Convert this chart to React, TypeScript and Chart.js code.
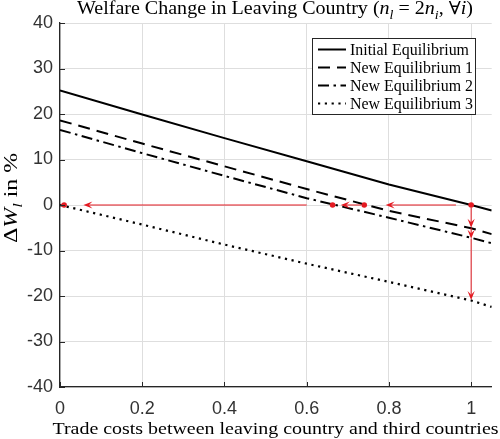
import React, { useEffect, useRef } from "react";
import { Chart, registerables } from "chart.js";

Chart.register(...registerables);

// ---- data ----
const xValues = [0, 0.2, 0.4, 0.6, 0.8, 1.0, 1.05];
const initialEq = [25.2, 19.9, 14.7, 9.6, 4.5, 0, -1.2];
const newEq1 = [18.6, 13.5, 8.5, 3.5, -1.3, -5.1, -6.4];
const newEq2 = [16.5, 11.4, 6.4, 1.5, -2.8, -7.2, -8.4];
const newEq3 = [0, -4.3, -8.7, -12.9, -16.9, -21.0, -22.4];

const seriesNames = ["Initial Equilibrium", "New Equilibrium 1", "New Equilibrium 2", "New Equilibrium 3"];

const dotX = [1, 0.74, 0.663, 0.01];
const dotY = [0, 0, 0, 0];

const arrowX1 = [0.963, 0.732, 0.6, 1, 1, 1];
const arrowY1 = [0, 0, 0, -0.6, -5.0, -7.4];
const arrowX2 = [0.792, 0.683, 0.057, 1, 1, 1];
const arrowY2 = [0, 0, 0, -5.0, -7.4, -20.9];

const xTicks = [0, 0.2, 0.4, 0.6, 0.8, 1];
const yMin = -40;
const yMax = 40;
const xMin = 0;
const xMax = 1.05;

const RED = "#e41a22";
const AXIS = "#262626";
const SERIF = '"Liberation Serif", "DejaVu Serif", serif';

type Seg = { t: string; it?: boolean; sub?: boolean };

function segFont(size: number, s: Seg) {
  const sz = s.sub ? size * 0.7 : size;
  return `${s.it ? "italic " : ""}${sz}px ${SERIF}`;
}

function measureSegs(ctx: CanvasRenderingContext2D, segs: Seg[], size: number) {
  let w = 0;
  for (const s of segs) {
    ctx.font = segFont(size, s);
    w += ctx.measureText(s.t).width;
  }
  return w;
}

function drawSegs(
  ctx: CanvasRenderingContext2D,
  segs: Seg[],
  size: number,
  cx: number,
  baseY: number,
  targetW: number
) {
  const w = measureSegs(ctx, segs, size);
  const sx = targetW / w;
  ctx.save();
  ctx.translate(cx - targetW / 2, baseY);
  ctx.scale(sx, 1);
  ctx.textAlign = "left";
  ctx.textBaseline = "alphabetic";
  ctx.fillStyle = "#000";
  let x = 0;
  for (const s of segs) {
    ctx.font = segFont(size, s);
    ctx.fillText(s.t, x, s.sub ? size * 0.25 : 0);
    x += ctx.measureText(s.t).width;
  }
  ctx.restore();
}

const titleSegs: Seg[] = [
  { t: "Welfare Change in Leaving Country (" },
  { t: "n", it: true },
  { t: "l", it: true, sub: true },
  { t: " = 2" },
  { t: "n", it: true },
  { t: "i", it: true, sub: true },
  { t: ", \u2200" },
  { t: "i", it: true },
  { t: ")" },
];
const xLabelSegs: Seg[] = [{ t: "Trade costs between leaving country and third countries" }];
const yLabelSegs: Seg[] = [
  { t: "\u0394" },
  { t: "W", it: true },
  { t: "l", it: true, sub: true },
  { t: " in %" },
];

const decorPlugin = {
  id: "decor",
  afterDatasetsDraw(chart: any) {
    const ctx: CanvasRenderingContext2D = chart.ctx;
    const xs = chart.scales.x;
    const ys = chart.scales.y;
    const area = chart.chartArea;

    // inward tick marks
    ctx.save();
    ctx.strokeStyle = AXIS;
    ctx.lineWidth = 1;
    ctx.beginPath();
    for (let v = yMin; v <= yMax; v += 10) {
      const py = Math.round(ys.getPixelForValue(v)) + 0.5;
      ctx.moveTo(area.left, py);
      ctx.lineTo(area.left + 5, py);
    }
    for (const v of xTicks) {
      const px = Math.round(xs.getPixelForValue(v)) + 0.5;
      ctx.moveTo(px, area.bottom);
      ctx.lineTo(px, area.bottom - 5);
    }
    ctx.stroke();
    ctx.restore();

    // red arrows
    ctx.save();
    ctx.strokeStyle = RED;
    ctx.fillStyle = RED;
    ctx.lineWidth = 1;
    for (let i = 0; i < arrowX1.length; i++) {
      const x1 = xs.getPixelForValue(arrowX1[i]);
      const y1 = ys.getPixelForValue(arrowY1[i]);
      const x2 = xs.getPixelForValue(arrowX2[i]);
      const y2 = ys.getPixelForValue(arrowY2[i]);
      const dx = x2 - x1;
      const dy = y2 - y1;
      const len = Math.hypot(dx, dy);
      const ux = dx / len;
      const uy = dy / len;
      const nx = -uy;
      const ny = ux;
      const L = 9;
      const W = 3.6;
      ctx.beginPath();
      ctx.moveTo(x1, y1);
      ctx.lineTo(x2 - ux * L * 0.6, y2 - uy * L * 0.6);
      ctx.stroke();
      ctx.beginPath();
      ctx.moveTo(x2, y2);
      ctx.lineTo(x2 - ux * L + nx * W, y2 - uy * L + ny * W);
      ctx.lineTo(x2 - ux * L * 0.6, y2 - uy * L * 0.6);
      ctx.lineTo(x2 - ux * L - nx * W, y2 - uy * L - ny * W);
      ctx.closePath();
      ctx.fill();
    }
    ctx.restore();

    // legend
    const lx = 312;
    const ly = 38;
    const lw = 164;
    const lh = 77;
    ctx.save();
    ctx.fillStyle = "#ffffff";
    ctx.fillRect(lx, ly, lw, lh);
    ctx.strokeStyle = AXIS;
    ctx.lineWidth = 1;
    ctx.strokeRect(lx + 0.5, ly + 0.5, lw - 1, lh - 1);
    const rowsY = [49, 67, 85, 103];
    ctx.font = `16px ${SERIF}`;
    const baseW = ctx.measureText(seriesNames[0]).width;
    const lsx = 119 / baseW;
    for (let i = 0; i < 4; i++) {
      const ds = chart.data.datasets[i];
      ctx.save();
      ctx.strokeStyle = "#000";
      ctx.lineWidth = ds.borderWidth;
      ctx.setLineDash(ds.borderDash || []);
      ctx.beginPath();
      ctx.moveTo(318, rowsY[i] + 0.5);
      ctx.lineTo(346, rowsY[i] + 0.5);
      ctx.stroke();
      ctx.restore();
      ctx.save();
      ctx.translate(350, rowsY[i] + 5.5);
      ctx.scale(lsx, 1);
      ctx.fillStyle = "#000";
      ctx.font = `16px ${SERIF}`;
      ctx.textAlign = "left";
      ctx.textBaseline = "alphabetic";
      ctx.fillText(seriesNames[i], 0, 0);
      ctx.restore();
    }
    ctx.restore();

    // title and axis labels
    drawSegs(ctx, titleSegs, 18, 275, 14, 396);
    drawSegs(ctx, xLabelSegs, 16, 275.5, 433.5, 446);
    ctx.save();
    ctx.translate(17, 198);
    ctx.rotate(-Math.PI / 2);
    drawSegs(ctx, yLabelSegs, 18.5, 0, 0, 90);
    ctx.restore();
  },
};

export default function App() {
  const ref = useRef<HTMLCanvasElement | null>(null);

  useEffect(() => {
    document.body.style.margin = "0";
    const canvas = ref.current;
    if (!canvas) return;
    const mk = (ys: number[]) => xValues.map((x, i) => ({ x, y: ys[i] }));
    const chart = new Chart(canvas, {
      type: "line",
      data: {
        datasets: [
          {
            label: seriesNames[0],
            data: mk(initialEq),
            borderColor: "#000",
            borderWidth: 2,
            pointRadius: 0,
            borderDash: [],
          },
          {
            label: seriesNames[1],
            data: mk(newEq1),
            borderColor: "#000",
            borderWidth: 2,
            pointRadius: 0,
            borderDash: [12, 7],
          },
          {
            label: seriesNames[2],
            data: mk(newEq2),
            borderColor: "#000",
            borderWidth: 2,
            pointRadius: 0,
            borderDash: [11, 4.5, 2.5, 4.5],
          },
          {
            label: seriesNames[3],
            data: mk(newEq3),
            borderColor: "#000",
            borderWidth: 2.2,
            pointRadius: 0,
            borderDash: [2.2, 4.6],
          },
          {
            label: "points",
            data: dotX.map((x, i) => ({ x, y: dotY[i] })),
            showLine: false,
            pointRadius: 2.8,
            pointBackgroundColor: RED,
            pointBorderColor: RED,
            borderWidth: 0,
            order: -1,
            clip: false,
          } as any,
        ],
      },
      options: {
        responsive: false,
        animation: false,
        devicePixelRatio: 1,
        layout: { padding: { top: 23, right: 8.3, bottom: 0, left: 0 } },
        plugins: {
          legend: { display: false },
          title: { display: false },
          tooltip: { enabled: false },
        },
        scales: {
          x: {
            type: "linear",
            min: xMin,
            max: xMax,
            afterBuildTicks: (s: any) => {
              s.ticks = xTicks.map((v) => ({ value: v }));
            },
            afterFit: (s: any) => {
              s.height = 52;
            },
            grid: { color: "#dedede", lineWidth: 1, drawTicks: false },
            border: { display: true, color: AXIS, width: 1.3 },
            ticks: {
              padding: 11,
              color: "#333333",
              font: { family: '"Liberation Sans", Arial, sans-serif', size: 18 },
              maxRotation: 0,
              callback: (v: any) => String(Number(v)),
            },
          },
          y: {
            type: "linear",
            min: yMin,
            max: yMax,
            afterFit: (s: any) => {
              s.width = 60;
            },
            grid: { color: "#dedede", lineWidth: 1, drawTicks: false },
            border: { display: true, color: AXIS, width: 1.3 },
            ticks: {
              stepSize: 10,
              padding: 7,
              color: "#333333",
              font: { family: '"Liberation Sans", Arial, sans-serif', size: 18 },
            },
          },
        },
      },
      plugins: [decorPlugin],
    } as any);
    return () => chart.destroy();
  }, []);

  return <canvas ref={ref} width={500} height={439} style={{ display: "block" }} />;
}
